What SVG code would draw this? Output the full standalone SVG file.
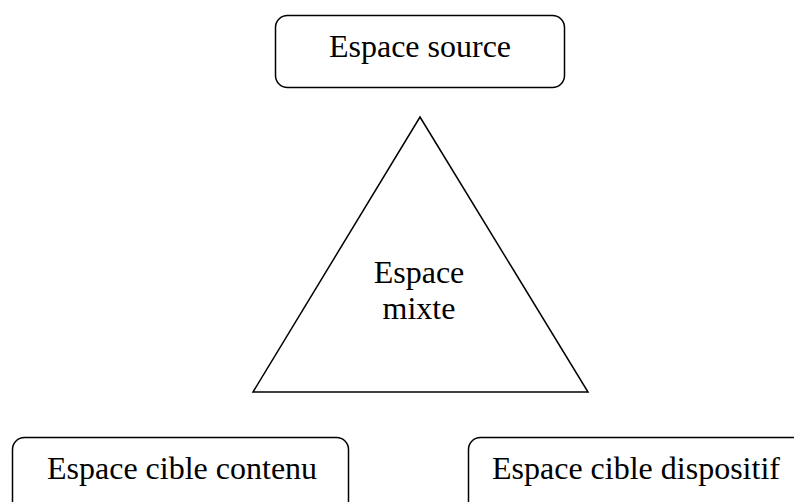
<svg xmlns="http://www.w3.org/2000/svg" width="794" height="502" viewBox="0 0 794 502">
<style>
.box{fill:#fff;stroke:#000;stroke-width:1.5}
.t{font-family:"Liberation Serif","Times New Roman",serif;font-size:32px;fill:#000}
</style>
<rect width="794" height="502" fill="#fff"/>
<g id="source">
<rect class="box" x="275.5" y="15.5" width="289" height="72" rx="12"/>
<text class="t" x="420" y="57" text-anchor="middle">Espace source</text>
</g>
<g id="mixte">
<polygon class="box" points="420,117 588,392 253,392"/>
<text class="t" x="419" y="283" text-anchor="middle">Espace</text>
<text class="t" x="419" y="319" text-anchor="middle">mixte</text>
</g>
<g id="contenu">
<rect class="box" x="12.5" y="437.5" width="336" height="90" rx="12"/>
<text class="t" x="47" y="479">Espace cible contenu</text>
</g>
<g id="dispositif">
<rect class="box" x="468.5" y="437.5" width="350" height="90" rx="12"/>
<text class="t" x="492" y="479">Espace cible dispositif</text>
</g>
<g id="connectors"></g>
</svg>
